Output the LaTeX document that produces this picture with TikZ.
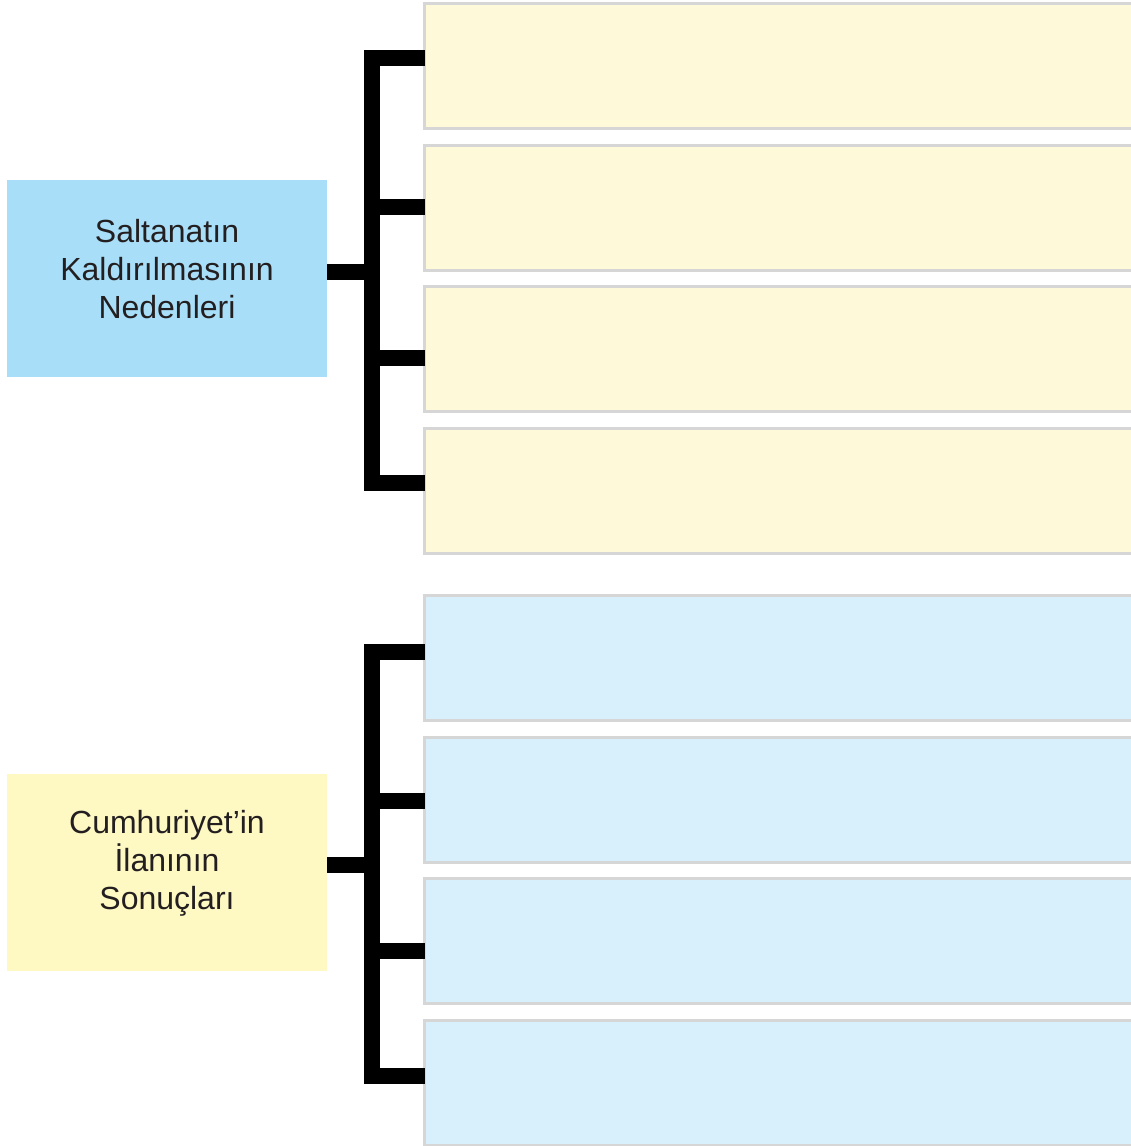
\documentclass[tikz,border=0pt]{standalone}
\usepackage{fontspec}
\setmainfont{Liberation Sans}
\definecolor{causefill}{HTML}{A8DEF8}
\definecolor{resultfill}{HTML}{FEF8C3}
\definecolor{causeitem}{HTML}{FEF9D8}
\definecolor{resultitem}{HTML}{D8F0FB}
\definecolor{edgegray}{HTML}{D6D6D6}
\definecolor{textgray}{HTML}{231F20}
\begin{document}
\begin{tikzpicture}[x=1pt,y=-1pt,
  title box/.style={minimum width=320pt,minimum height=197pt,inner sep=0pt,outer sep=0pt},
  title text/.style={align=center,text=textgray,inner sep=0pt,font=\fontsize{32}{38}\selectfont},
  item box/.style={draw=edgegray,line width=3pt,minimum width=730pt,minimum height=125pt,
    anchor=north west,inner sep=0pt,outer sep=0pt},
  bar/.style={line width=16pt,line join=miter}]

  \useasboundingbox (0,0) rectangle (1131,1146);
  \clip (0,0) rectangle (1131,1146);

  % causes
  \node[title box,fill=causefill] (c0) at (167,278.5){};
  \node[title text] at ([yshift=9pt]c0.center) {Saltanatın\\Kaldırılmasının\\Nedenleri};
  \node[item box,fill=causeitem] (c1) at (424.5,3.5){};
  \node[item box,fill=causeitem] (c2) at (424.5,145.2){};
  \node[item box,fill=causeitem] (c3) at (424.5,286.8){};
  \node[item box,fill=causeitem] (c4) at (424.5,428.5){};

  \coordinate (cj) at (372,271.5);
  \coordinate (cb1) at (372,58);
  \coordinate (cb2) at (372,207);
  \coordinate (cb3) at (372,357.5);
  \coordinate (cb4) at (372,482.5);

  \draw[bar] (c0.east |- cj) -- (cj);
  \draw[bar] (c1.west |- cb1) -- (cb1) -- (cb4) -- (c4.west |- cb4);
  \draw[bar] (cb2) -- (c2.west |- cb2);
  \draw[bar] (cb3) -- (c3.west |- cb3);

  % results
  \node[title box,fill=resultfill] (s0) at (167,872.5){};
  \node[title text] at ([yshift=9pt]s0.center) {Cumhuriyet’in\\İlanının\\Sonuçları};
  \node[item box,fill=resultitem] (s1) at (424.5,595.5){};
  \node[item box,fill=resultitem] (s2) at (424.5,737.2){};
  \node[item box,fill=resultitem] (s3) at (424.5,878.8){};
  \node[item box,fill=resultitem] (s4) at (424.5,1020.5){};

  \coordinate (sj) at (372,864.5);
  \coordinate (sb1) at (372,652);
  \coordinate (sb2) at (372,800.5);
  \coordinate (sb3) at (372,950.5);
  \coordinate (sb4) at (372,1076);

  \draw[bar] (s0.east |- sj) -- (sj);
  \draw[bar] (s1.west |- sb1) -- (sb1) -- (sb4) -- (s4.west |- sb4);
  \draw[bar] (sb2) -- (s2.west |- sb2);
  \draw[bar] (sb3) -- (s3.west |- sb3);
\end{tikzpicture}
\end{document}
